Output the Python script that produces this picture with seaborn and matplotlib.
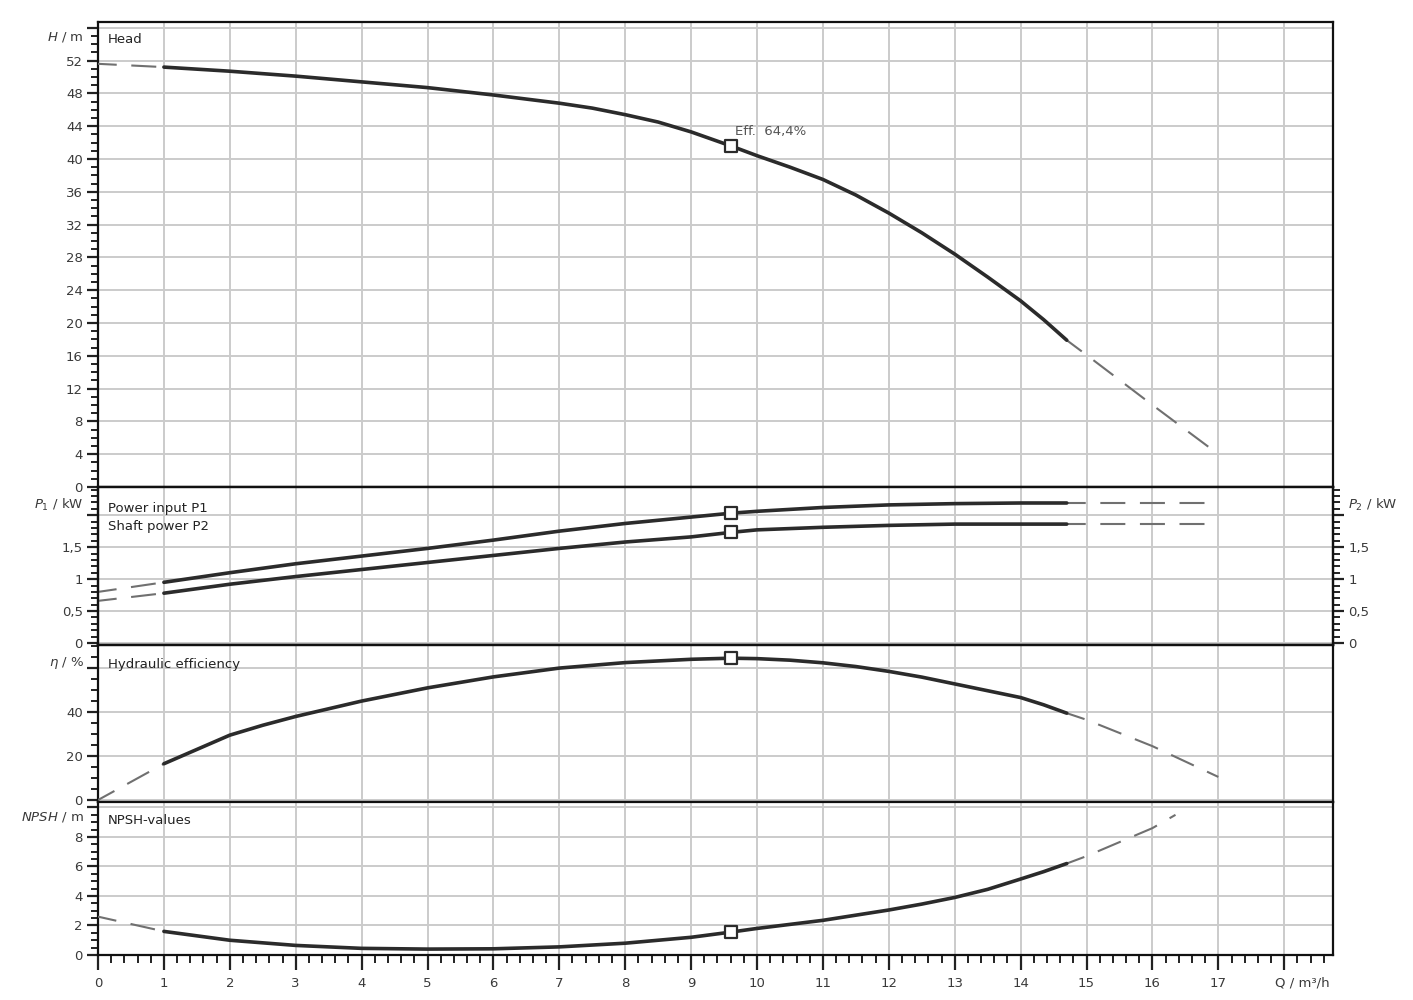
import numpy as np
import pandas as pd
import matplotlib
matplotlib.use("Agg")
import matplotlib.pyplot as plt
import seaborn as sns
from matplotlib.ticker import MultipleLocator, FuncFormatter
import matplotlib.transforms as mtransforms

# ---------------- data ----------------
q_head = [0, 1, 2, 3, 4, 5, 6, 7, 7.5, 8, 8.5, 9, 9.6, 10, 10.5, 11, 11.5, 12,
          12.5, 13, 13.5, 14, 14.35, 14.7, 15, 16, 17]
head = [51.6, 51.2, 50.7, 50.1, 49.4, 48.7, 47.8, 46.8, 46.2, 45.4, 44.5, 43.3,
        41.6, 40.4, 39.0, 37.5, 35.6, 33.4, 31.0, 28.4, 25.6, 22.7, 20.4, 17.9,
        16.1, 10.0, 4.0]

q_power = [0, 1, 2, 3, 4, 5, 6, 7, 8, 9, 9.6, 10, 11, 12, 13, 14, 14.7, 15, 16, 17]
p1 = [0.80, 0.95, 1.10, 1.24, 1.36, 1.48, 1.61, 1.75, 1.87, 1.97, 2.03, 2.06,
      2.12, 2.16, 2.18, 2.19, 2.19, 2.19, 2.19, 2.19]
p2 = [0.66, 0.78, 0.92, 1.04, 1.15, 1.26, 1.37, 1.48, 1.58, 1.66, 1.73, 1.77,
      1.81, 1.84, 1.86, 1.86, 1.86, 1.86, 1.86, 1.86]

q_eff = [0, 1, 1.5, 2, 2.5, 3, 4, 5, 6, 7, 8, 9, 9.6, 10, 10.5, 11, 11.5, 12,
         12.5, 13, 13.5, 14, 14.35, 14.7, 15, 16, 17]
eff = [0.0, 16.5, 23.0, 29.5, 34.0, 38.0, 45.0, 51.0, 56.0, 60.0, 62.5, 64.0,
       64.5, 64.3, 63.6, 62.4, 60.7, 58.5, 55.9, 52.8, 49.7, 46.6, 43.3, 39.5,
       36.5, 24.5, 10.5]

q_npsh = [0, 1, 2, 3, 4, 5, 6, 7, 8, 9, 9.6, 10, 11, 11.5, 12, 12.5, 13, 13.5,
          14, 14.35, 14.7, 15, 16, 16.35]
npsh = [2.6, 1.6, 1.0, 0.65, 0.45, 0.4, 0.42, 0.55, 0.8, 1.2, 1.55, 1.8, 2.35,
        2.7, 3.05, 3.45, 3.9, 4.45, 5.15, 5.65, 6.2, 6.7, 8.6, 9.5]

solid_range = (1.0, 14.7)
duty_q = 9.6
eff_label = "Eff.  64,4%"

y_labels = [r"$H$ / m", r"$P_1$ / kW", r"$\eta$ / %", r"$NPSH$ / m"]
x_ticks = list(range(0, 18))
x_label = "Q / m³/h"

# ---------------- style ----------------
sns.set_theme(style="white")
plt.rcParams["font.family"] = ["DejaVu Sans"]
plt.rcParams["axes.unicode_minus"] = False

W, H = 1413, 1000
fig = plt.figure(figsize=(W / 100, H / 100), dpi=100)

def frac(px_left, px_top, px_right, px_bottom):
    return [px_left / W, 1 - px_bottom / H, (px_right - px_left) / W, (px_bottom - px_top) / H]

L, R = 98, 1333
ax_h = fig.add_axes(frac(L, 22, R, 487))
ax_p = fig.add_axes(frac(L, 487, R, 645))
ax_e = fig.add_axes(frac(L, 645, R, 802))
ax_n = fig.add_axes(frac(L, 802, R, 955))
axes = [ax_h, ax_p, ax_e, ax_n]

GRID = "#cbcbcb"
TXT = "#3a3a3a"
SOLID = "#2b2b2b"
DASH = "#707070"

def comma_fmt(maxval):
    def f(v, pos):
        if v > maxval + 1e-9 or v < -1e-9:
            return ""
        return f"{v:g}".replace(".", ",")
    return FuncFormatter(f)

def draw(ax, qs, vs):
    df = pd.DataFrame({"Q": qs, "v": vs})
    lo = df[df.Q <= solid_range[0]]
    mid = df[(df.Q >= solid_range[0]) & (df.Q <= solid_range[1])]
    hi = df[df.Q >= solid_range[1]]
    for seg in (lo, hi):
        sns.lineplot(data=seg, x="Q", y="v", ax=ax, color=DASH, lw=1.5,
                     linestyle=(3, (12, 7)), sort=False, estimator=None, zorder=3)
    sns.lineplot(data=mid, x="Q", y="v", ax=ax, color=SOLID, lw=2.6,
                 sort=False, estimator=None, zorder=4)
    i = list(qs).index(duty_q)
    sns.scatterplot(x=[qs[i]], y=[vs[i]], ax=ax, marker="s", s=70,
                    facecolor="white", edgecolor=SOLID, linewidth=1.6, zorder=5)
    ax.set_xlabel("")
    ax.set_ylabel("")

draw(ax_h, q_head, head)
draw(ax_p, q_power, p1)
draw(ax_p, q_power, p2)
draw(ax_e, q_eff, eff)
draw(ax_n, q_npsh, npsh)

ylims = [(0, 56.7), (-0.03, 2.44), (-0.9, 70.5), (0, 10.37)]
majors = [4, 0.5, 20, 2]
minors = [1, 0.1, 5, 0.5]
maxlab = [52, 1.5, 40, 8]
ylab_pos = [0.968, 0.886, 0.885, 0.902]

for ax, yl, mj, mn, ml, lab, yp in zip(axes, ylims, majors, minors, maxlab,
                                       y_labels, ylab_pos):
    ax.set_xlim(0, 18.74)
    ax.set_ylim(*yl)
    ax.xaxis.set_major_locator(MultipleLocator(1))
    ax.xaxis.set_minor_locator(MultipleLocator(0.2))
    ax.yaxis.set_major_locator(MultipleLocator(mj))
    ax.yaxis.set_minor_locator(MultipleLocator(mn))
    ax.yaxis.set_major_formatter(comma_fmt(ml))
    ax.grid(True, which="major", color=GRID, lw=1.4, zorder=0)
    ax.set_axisbelow(True)
    for sp in ax.spines.values():
        sp.set_color("#111111")
        sp.set_linewidth(1.6)
    ax.tick_params(axis="y", which="major", direction="out", length=8, width=1.6,
                   color="#222222", labelsize=9.5, labelcolor=TXT, pad=3, left=True)
    ax.tick_params(axis="y", which="minor", direction="out", length=5, width=1.4,
                   color="#222222", left=True)
    if ax is not ax_n:
        ax.tick_params(axis="x", which="both", length=0, labelbottom=False, bottom=False)
    ax.text(-0.0115, yp, lab, transform=ax.transAxes, ha="right", va="center",
            fontsize=9.5, color=TXT)

# panel titles
title_kw = dict(ha="left", va="center", fontsize=9.5, color="#222222")
ax_h.text(0.008, 0.963, "Head", transform=ax_h.transAxes, **title_kw)
ax_p.text(0.008, 0.867, "Power input P1", transform=ax_p.transAxes, **title_kw)
ax_p.text(0.008, 0.747, "Shaft power P2", transform=ax_p.transAxes, **title_kw)
ax_e.text(0.008, 0.878, "Hydraulic efficiency", transform=ax_e.transAxes, **title_kw)
ax_n.text(0.008, 0.882, "NPSH-values", transform=ax_n.transAxes, **title_kw)

# bottom x-axis
ax_n.set_xticks(x_ticks + [18])
ax_n.set_xticklabels([str(t) for t in x_ticks] + [""])
ax_n.tick_params(axis="x", which="major", direction="out", length=11, width=1.6,
                 color="#222222", labelsize=9.5, labelcolor=TXT, pad=4.5, bottom=True)
ax_n.tick_params(axis="x", which="minor", direction="out", length=6, width=1.4,
                 color="#222222", bottom=True)
trans = mtransforms.blended_transform_factory(ax_n.transData, ax_n.transAxes)
ax_n.text(18.27, -0.185, x_label, transform=trans, ha="center", va="center",
          fontsize=9.5, color=TXT)

# efficiency annotation in head panel
ax_h.text(9.67, 43.4, eff_label, ha="left", va="center", fontsize=9.5, color="#555555")

# right axis for P2
ax_r = ax_p.twinx()
ax_r.set_ylim(*ylims[1])
ax_r.yaxis.set_major_locator(MultipleLocator(0.5))
ax_r.yaxis.set_minor_locator(MultipleLocator(0.1))
ax_r.yaxis.set_major_formatter(comma_fmt(1.5))
ax_r.tick_params(axis="y", which="major", direction="out", length=8, width=1.6,
                 color="#222222", labelsize=9.5, labelcolor=TXT, pad=3, right=True)
ax_r.tick_params(axis="y", which="minor", direction="out", length=5, width=1.4,
                 color="#222222", right=True)
for sp in ax_r.spines.values():
    sp.set_color("#111111")
    sp.set_linewidth(1.6)
ax_r.grid(False)
ax_r.text(1.012, 0.886, r"$P_2$ / kW", transform=ax_p.transAxes, ha="left",
          va="center", fontsize=9.5, color=TXT)

fig.savefig("out.png", dpi=100, facecolor="white")
